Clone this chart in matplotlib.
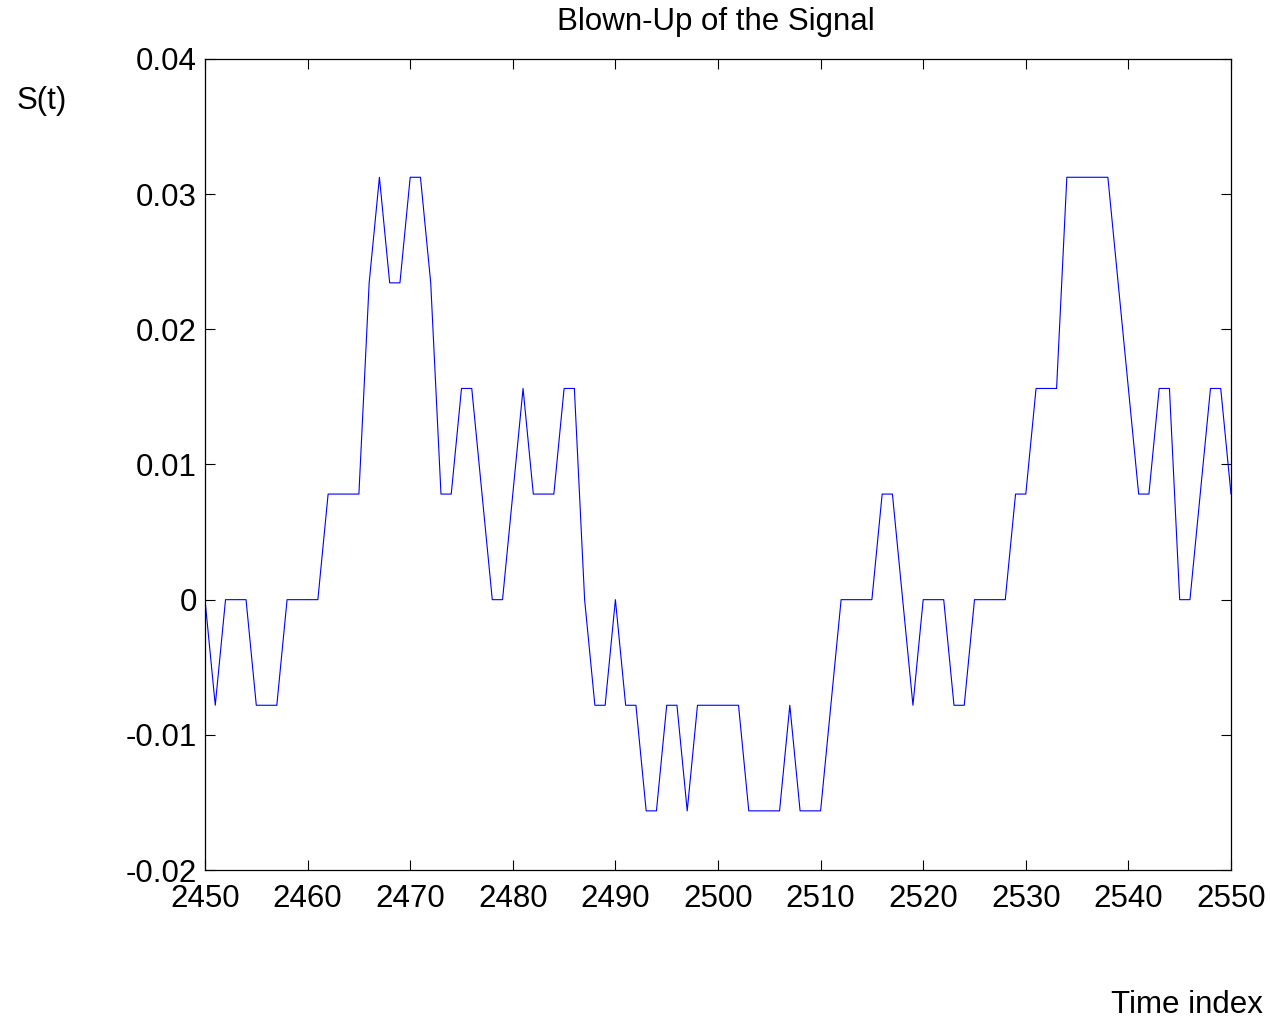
import numpy as np
import matplotlib.pyplot as plt

# Time indices and quantized signal values (in steps of 1/128)
t = np.arange(2450, 2551)
levels = [0, -1, 0, 0, 0, -1, -1, -1, 0, 0,
          0, 0, 1, 1, 1, 1, 3, 4, 3, 3,
          4, 4, 3, 1, 1, 2, 2, 1, 0, 0,
          1, 2, 1, 1, 1, 2, 2, 0, -1, -1,
          0, -1, -1, -2, -2, -1, -1, -2, -1, -1,
          -1, -1, -1, -2, -2, -2, -2, -1, -2, -2,
          -2, -1, 0, 0, 0, 0, 1, 1, 0, -1,
          0, 0, 0, -1, -1, 0, 0, 0, 0, 1,
          1, 2, 2, 2, 4, 4, 4, 4, 4, 3,
          2, 1, 1, 2, 2, 0, 0, 1, 2, 2,
          1]
step = 1 / 128
s = np.array(levels) * step

xticks = [2450, 2460, 2470, 2480, 2490, 2500, 2510, 2520, 2530, 2540, 2550]
yticks = [-0.02, -0.01, 0, 0.01, 0.02, 0.03, 0.04]
ytick_labels = ['-0.02', '-0.01', '0', '0.01', '0.02', '0.03', '0.04']

plt.rcParams['font.family'] = ['Liberation Sans', 'DejaVu Sans']
fs = 22.5

fig = plt.figure(figsize=(12.7, 10.22), dpi=100)
ax = fig.add_axes([205 / 1270, 1 - 870 / 1022, (1231 - 205) / 1270, (870 - 59) / 1022])

ax.plot(t, s, color='#0000ff', linewidth=0.8)

ax.set_xlim(2450, 2550)
ax.set_ylim(-0.02, 0.04)
ax.set_xticks(xticks)
ax.set_xticklabels([str(v) for v in xticks])
ax.set_yticks(yticks)
ax.set_yticklabels(ytick_labels)
ax.tick_params(direction='in', length=7, width=0.8, labelsize=fs,
               top=True, right=True)
ax.tick_params(axis='x', pad=10)
ax.tick_params(axis='y', pad=6)
for sp in ax.spines.values():
    sp.set_linewidth(0.9)

fig.text(716 / 1270, 1 - 22 / 1022, 'Blown-Up of the Signal', fontsize=fs,
         ha='center', va='center')
fig.text(17 / 1270, 1 - 101 / 1022, 'S(t)', fontsize=fs, ha='left', va='center')
fig.text(1263 / 1270, 1 - 1005 / 1022, 'Time index', fontsize=fs, ha='right', va='center')

fig.savefig('out.png', dpi=100)
